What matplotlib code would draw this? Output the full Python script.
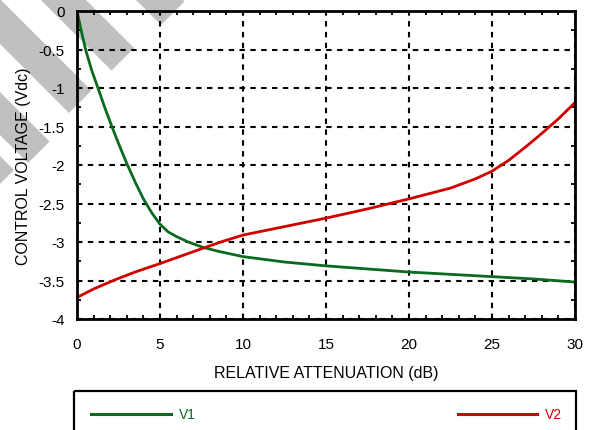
import matplotlib
matplotlib.use("Agg")
import matplotlib.pyplot as plt
from matplotlib.ticker import MultipleLocator, FormatStrFormatter
from matplotlib.patches import Polygon, Rectangle
from matplotlib.lines import Line2D
from matplotlib.transforms import Affine2D

plt.rcParams["font.family"] = ["Liberation Sans", "DejaVu Sans"]
plt.rcParams["axes.unicode_minus"] = False

# values
v1_att = [0, 0.25, 0.54, 0.9, 1.33, 1.7, 2.1, 2.5, 3.0, 3.5, 4.0, 4.5, 5.0, 5.5, 6.0, 6.7,
          7.6, 8.5, 10, 12.5, 15, 17.5, 20, 22.5, 25, 27.5, 30]
v1_volt = [0, -0.25, -0.52, -0.78, -1.04, -1.27, -1.5, -1.72, -1.98, -2.22, -2.44, -2.62,
           -2.77, -2.87, -2.93, -3.0, -3.07, -3.12, -3.19, -3.26, -3.31, -3.35, -3.39, -3.42,
           -3.45, -3.48, -3.52]
v2_att = [0, 1, 2.3, 3.5, 5, 6.3, 7.6, 8.8, 10, 12.5, 15, 17.5, 20, 22.5, 24, 25, 26, 27,
          28, 29, 30]
v2_volt = [-3.72, -3.61, -3.49, -3.39, -3.28, -3.18, -3.08, -2.99, -2.91, -2.8, -2.69, -2.57,
           -2.44, -2.3, -2.18, -2.08, -1.94, -1.77, -1.59, -1.4, -1.19]
series_names = ["V1", "V2"]
series_colors = ["#0a6a1e", "#d00000"]

W, H = 590, 431
fig = plt.figure(figsize=(W / 100, H / 100), dpi=100)
px = Affine2D().scale(1, -1).translate(0, H)  # pixel coords, origin top-left

# grey diagonal watermark stripes behind everything
for c1, c2, e in [(135, 182, 187), (40, 85, 183), (-45, 0, 183), (-136, -93, 192), (-205, -157, 185)]:
    xa, ya = (e + c1) / 2, (e - c1) / 2
    xb, yb = (e + c2) / 2, (e - c2) / 2
    pts = [(xa, ya), (xb, yb), (xb - 400, yb - 400), (xa - 400, ya - 400)]
    fig.patches.append(Polygon(pts, closed=True, transform=px, facecolor="#c0c0c0",
                               edgecolor="none", zorder=-5))

ax = fig.add_axes([77 / W, (H - 320) / H, 498 / W, 308 / H])
ax.set_facecolor("none")

ax.plot(v1_att, v1_volt, color=series_colors[0], lw=2.0, zorder=3)
ax.plot(v2_att, v2_volt, color=series_colors[1], lw=2.0, zorder=3)

ax.set_xlim(0, 30)
ax.set_ylim(-4, 0)
ax.xaxis.set_major_locator(MultipleLocator(5))
ax.xaxis.set_minor_locator(MultipleLocator(1))
ax.yaxis.set_major_locator(MultipleLocator(0.5))
ax.yaxis.set_minor_locator(MultipleLocator(0.25))
ax.yaxis.set_major_formatter(FormatStrFormatter("%g"))
ax.xaxis.set_major_formatter(FormatStrFormatter("%g"))

ax.grid(True, which="major", color="black", linestyle=(0, (2.6, 2.6)), lw=1.5, zorder=1)
ax.tick_params(which="both", direction="in", top=True, right=True, width=1.3,
               color="black", labelsize=11, labelcolor="black")
ax.tick_params(which="major", length=0)
ax.tick_params(which="minor", length=3)
ax.tick_params(axis="x", which="major", pad=13)
ax.tick_params(axis="y", which="major", pad=9)
for s in ax.spines.values():
    s.set_linewidth(2.0)
    s.set_zorder(4)

ax.set_xlabel("RELATIVE ATTENUATION (dB)", fontsize=11.5, labelpad=10)
ax.set_ylabel("CONTROL VOLTAGE (Vdc)", fontsize=11.5, labelpad=5)

# legend box at the bottom, running off the image
fig.patches.append(Rectangle((74, 392), 502, 60, transform=px, fill=False,
                             edgecolor="black", lw=1.6))
for name, col, (x0, x1) in zip(series_names, series_colors, [(91, 171), (458, 537)]):
    fig.lines.append(Line2D([x0, x1], [415, 415], transform=px, color=col, lw=2.2))
    fig.text(x1 + 8, 415, name, transform=px, color=col, fontsize=10, va="center", ha="left")

fig.savefig("out.png", dpi=100)
